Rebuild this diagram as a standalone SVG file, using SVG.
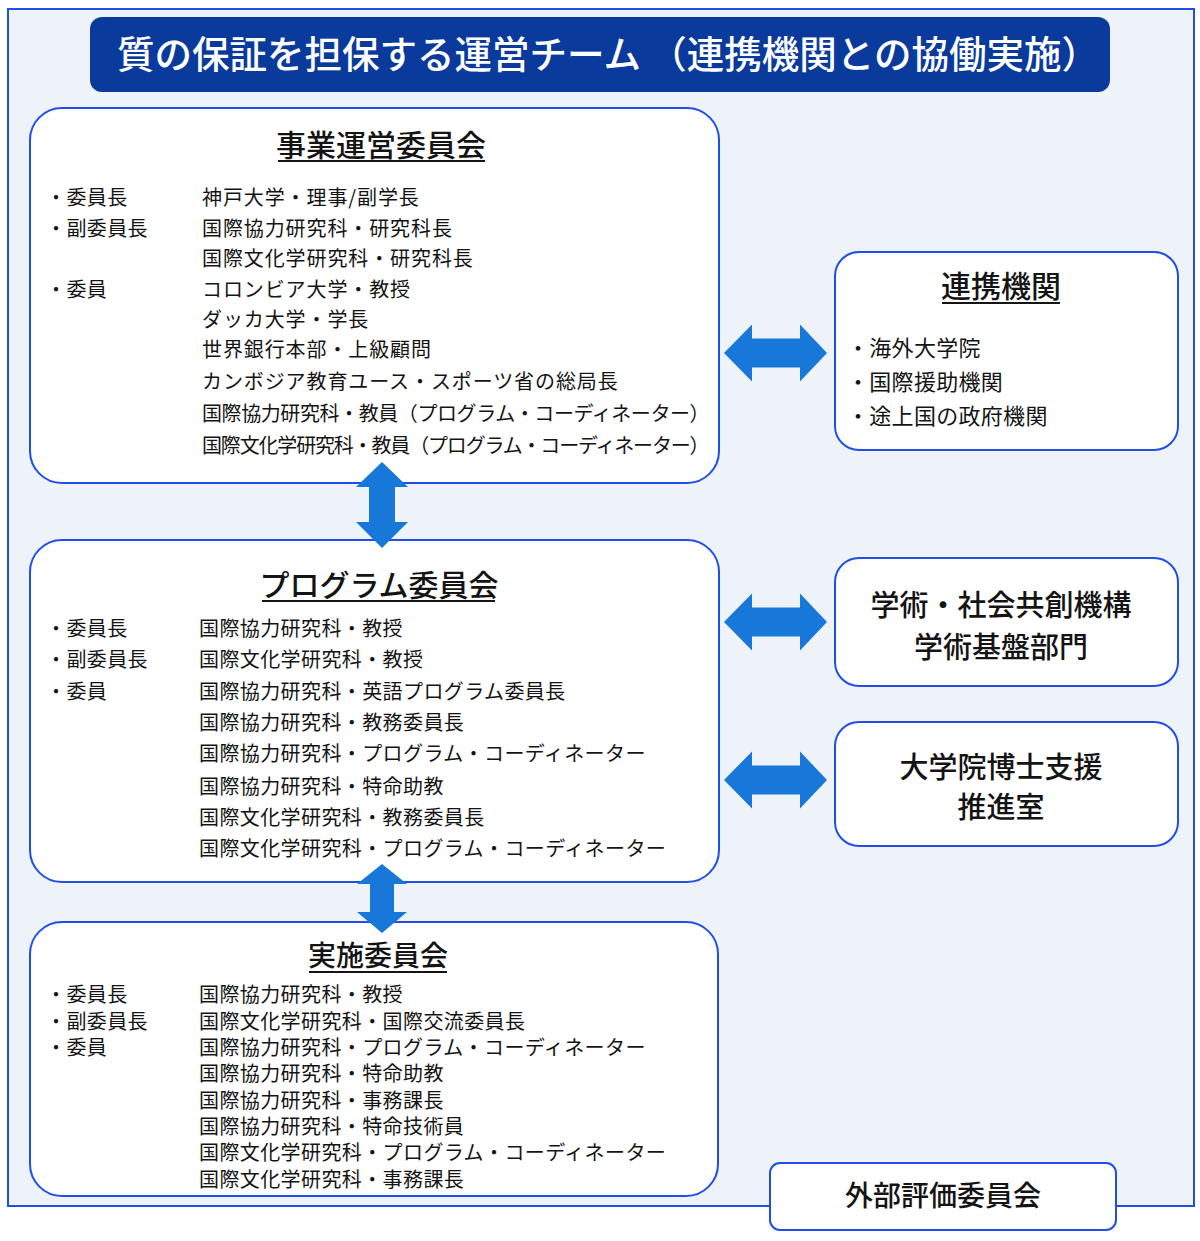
<svg xmlns="http://www.w3.org/2000/svg" width="1200" height="1241" viewBox="0 0 1200 1241">
<defs>
<style>
text{font-family:"Noto Sans CJK JP","Noto Sans CJK SC",sans-serif;fill:#141414;}
.frame{fill:#eef2f9;stroke:#1f4fe8;stroke-width:2;}
.box{fill:#ffffff;stroke:#1f4fe8;stroke-width:2;}
.ttl{fill:#ffffff;font-size:37.5px;font-weight:500;}
.h{font-size:30px;font-weight:500;text-anchor:middle;}
.ul{stroke:#141414;stroke-width:2;}
.t{font-size:20px;letter-spacing:0.4px;}
.t1{font-size:20px;letter-spacing:0.9px;}
.r{font-size:22px;letter-spacing:0.3px;}
.c{font-size:29px;font-weight:500;text-anchor:middle;}
.arw{fill:#1878d9;}
</style>
</defs>
<rect x="0" y="0" width="1200" height="1241" fill="#ffffff"/>
<rect class="frame" x="8" y="9" width="1186" height="1197"/>
<g id="title">
<rect x="90" y="17" width="1020" height="75" rx="12" fill="#0a3a9c"/>
<text class="ttl" x="608" y="68" text-anchor="middle">質の保証を担保する運営チーム （連携機関との協働実施）</text>
</g>
<g id="jigyo">
<rect class="box" x="30" y="108" width="689" height="375" rx="32"/>
<text class="h" x="381" y="156">事業運営委員会</text>
<line class="ul" x1="278" y1="161" x2="485" y2="161"/>
<text class="t" x="46" y="204.5">・委員長</text>
<text class="t" x="46" y="235.5">・副委員長</text>
<text class="t" x="46" y="296.5">・委員</text>
<text class="t1" x="202" y="204.5">神戸大学・理事/副学長</text>
<text class="t1" x="202" y="235.5">国際協力研究科・研究科長</text>
<text class="t1" x="202" y="265.5">国際文化学研究科・研究科長</text>
<text class="t1" x="202" y="296.5">コロンビア大学・教授</text>
<text class="t1" x="202" y="326.5">ダッカ大学・学長</text>
<text class="t1" x="202" y="356.5">世界銀行本部・上級顧問</text>
<text class="t1" x="202" y="388.5">カンボジア教育ユース・スポーツ省の総局長</text>
<text class="t" x="202" y="420.5" textLength="508" lengthAdjust="spacing">国際協力研究科・教員（プログラム・コーディネーター）</text>
<text class="t" x="202" y="452.5" textLength="508" lengthAdjust="spacing">国際文化学研究科・教員（プログラム・コーディネーター）</text>
</g>
<g id="program">
<rect class="box" x="30" y="540" width="689" height="342" rx="32"/>
<text class="h" x="379" y="595.5">プログラム委員会</text>
<line class="ul" x1="262" y1="601" x2="495" y2="601"/>
<text class="t" x="46" y="635.5">・委員長</text>
<text class="t" x="46" y="666.5">・副委員長</text>
<text class="t" x="46" y="698.5">・委員</text>
<text class="t" x="199" y="635.5">国際協力研究科・教授</text>
<text class="t" x="199" y="666.5">国際文化学研究科・教授</text>
<text class="t" x="199" y="698.5">国際協力研究科・英語プログラム委員長</text>
<text class="t" x="199" y="730">国際協力研究科・教務委員長</text>
<text class="t" x="199" y="761">国際協力研究科・プログラム・コーディネーター</text>
<text class="t" x="199" y="793.5">国際協力研究科・特命助教</text>
<text class="t" x="199" y="824.5">国際文化学研究科・教務委員長</text>
<text class="t" x="199" y="856">国際文化学研究科・プログラム・コーディネーター</text>
</g>
<g id="jisshi">
<rect class="box" x="30" y="922" width="688" height="274" rx="32"/>
<text class="h" x="378" y="966" style="font-size:28px">実施委員会</text>
<line class="ul" x1="309" y1="972" x2="447" y2="972"/>
<text class="t" x="46" y="1002">・委員長</text>
<text class="t" x="46" y="1028.5">・副委員長</text>
<text class="t" x="46" y="1055">・委員</text>
<text class="t" x="199" y="1002">国際協力研究科・教授</text>
<text class="t" x="199" y="1028.5">国際文化学研究科・国際交流委員長</text>
<text class="t" x="199" y="1055">国際協力研究科・プログラム・コーディネーター</text>
<text class="t" x="199" y="1081.3">国際協力研究科・特命助教</text>
<text class="t" x="199" y="1107.6">国際協力研究科・事務課長</text>
<text class="t" x="199" y="1133.9">国際協力研究科・特命技術員</text>
<text class="t" x="199" y="1160.2">国際文化学研究科・プログラム・コーディネーター</text>
<text class="t" x="199" y="1186.5">国際文化学研究科・事務課長</text>
</g>
<g id="renkei">
<rect class="box" x="835" y="252" width="343" height="198" rx="24"/>
<text class="h" x="1001" y="297">連携機関</text>
<line class="ul" x1="942" y1="303" x2="1060" y2="303"/>
<text class="r" x="847" y="356">・海外大学院</text>
<text class="r" x="847" y="390">・国際援助機関</text>
<text class="r" x="847" y="424">・途上国の政府機関</text>
</g>
<g id="gakujutsu">
<rect class="box" x="835" y="558" width="343" height="128" rx="24"/>
<text class="c" x="1001" y="616">学術・社会共創機構</text>
<text class="c" x="1001" y="658">学術基盤部門</text>
</g>
<g id="hakase">
<rect class="box" x="835" y="722" width="343" height="124" rx="24"/>
<text class="c" x="1001" y="778">大学院博士支援</text>
<text class="c" x="1001" y="818">推進室</text>
</g>
<g id="gaibu">
<rect class="box" x="770" y="1163" width="346" height="67" rx="10"/>
<text class="c" x="943" y="1206" style="font-size:28px">外部評価委員会</text>
</g>
<g id="connectors">
<path class="arw" d="M382,462 L408,487 L395,487 L395,522 L408,522 L382,548 L356,522 L369,522 L369,487 L356,487 Z"/>
<path class="arw" d="M382,864 L407,884 L394,884 L394,912 L407,912 L382,933 L357,912 L370,912 L370,884 L357,884 Z"/>
<path class="arw" d="M724,353 L752,324.5 L752,338.5 L800,338.5 L800,324.5 L827,353 L800,381.5 L800,367.5 L752,367.5 L752,381.5 Z"/>
<path class="arw" d="M724,622 L752,593.5 L752,607.5 L800,607.5 L800,593.5 L827,622 L800,650.5 L800,636.5 L752,636.5 L752,650.5 Z"/>
<path class="arw" d="M724,780 L752,751.5 L752,765.5 L800,765.5 L800,751.5 L827,780 L800,808.5 L800,794.5 L752,794.5 L752,808.5 Z"/>
</g>
</svg>
